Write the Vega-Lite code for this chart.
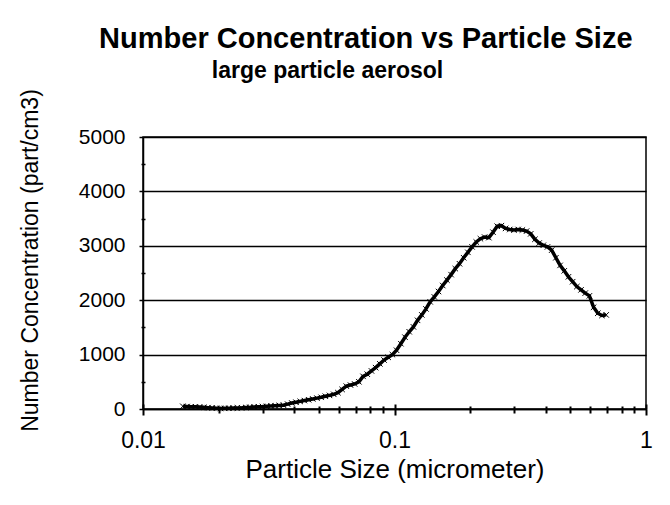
{
  "$schema": "https://vega.github.io/schema/vega-lite/v6.json",
  "width": 503,
  "height": 272,
  "autosize": {"type": "none"},
  "padding": {"left": 143, "top": 137, "right": 24, "bottom": 96},
  "background": "white",
  "title": {
    "text": "Number Concentration vs Particle Size",
    "subtitle": "large particle aerosol\u00a0\u00a0\u00a0\u00a0\u00a0\u00a0\u00a0\u00a0\u00a0\u00a0\u00a0\u00a0\u200b",
    "anchor": "middle",
    "frame": "bounds",
    "dx": 30,
    "font": "Liberation Sans",
    "fontSize": 29,
    "fontWeight": "bold",
    "color": "black",
    "subtitleFont": "Liberation Sans",
    "subtitleFontSize": 23,
    "subtitleFontWeight": "bold",
    "subtitleColor": "black",
    "subtitlePadding": 6,
    "offset": 6
  },
  "data": {
    "values": [
      {"size": 0.01440, "conc": 50}, {"size": 0.01496, "conc": 45}, {"size": 0.01555, "conc": 40}, {"size": 0.01616, "conc": 40},
      {"size": 0.01679, "conc": 35}, {"size": 0.01745, "conc": 30}, {"size": 0.01813, "conc": 25}, {"size": 0.01884, "conc": 20},
      {"size": 0.01958, "conc": 15}, {"size": 0.02034, "conc": 10}, {"size": 0.02114, "conc": 12}, {"size": 0.02196, "conc": 15},
      {"size": 0.02282, "conc": 18}, {"size": 0.02372, "conc": 20}, {"size": 0.02465, "conc": 22}, {"size": 0.02561, "conc": 28},
      {"size": 0.02661, "conc": 32}, {"size": 0.02765, "conc": 38}, {"size": 0.02873, "conc": 42}, {"size": 0.02986, "conc": 45},
      {"size": 0.03102, "conc": 50}, {"size": 0.03224, "conc": 55}, {"size": 0.03350, "conc": 60}, {"size": 0.03481, "conc": 65},
      {"size": 0.03617, "conc": 70}, {"size": 0.03759, "conc": 90}, {"size": 0.03906, "conc": 110}, {"size": 0.04059, "conc": 125},
      {"size": 0.04217, "conc": 140}, {"size": 0.04382, "conc": 155}, {"size": 0.04554, "conc": 170}, {"size": 0.04732, "conc": 185},
      {"size": 0.04917, "conc": 200}, {"size": 0.05109, "conc": 215}, {"size": 0.05309, "conc": 235}, {"size": 0.05517, "conc": 250},
      {"size": 0.05733, "conc": 270}, {"size": 0.05957, "conc": 300}, {"size": 0.06190, "conc": 360}, {"size": 0.06432, "conc": 420},
      {"size": 0.06684, "conc": 440}, {"size": 0.06945, "conc": 460}, {"size": 0.07217, "conc": 500}, {"size": 0.07499, "conc": 600},
      {"size": 0.07793, "conc": 640}, {"size": 0.08098, "conc": 700}, {"size": 0.08414, "conc": 760}, {"size": 0.08744, "conc": 830},
      {"size": 0.09086, "conc": 900}, {"size": 0.09441, "conc": 950}, {"size": 0.09810, "conc": 1000}, {"size": 0.1019, "conc": 1080},
      {"size": 0.1060, "conc": 1200}, {"size": 0.1101, "conc": 1320}, {"size": 0.1144, "conc": 1420}, {"size": 0.1189, "conc": 1510},
      {"size": 0.1235, "conc": 1630}, {"size": 0.1284, "conc": 1730}, {"size": 0.1334, "conc": 1840}, {"size": 0.1386, "conc": 1970},
      {"size": 0.1440, "conc": 2060}, {"size": 0.1496, "conc": 2160}, {"size": 0.1555, "conc": 2270}, {"size": 0.1616, "conc": 2370},
      {"size": 0.1679, "conc": 2470}, {"size": 0.1745, "conc": 2580}, {"size": 0.1813, "conc": 2670}, {"size": 0.1884, "conc": 2780},
      {"size": 0.1958, "conc": 2880}, {"size": 0.2034, "conc": 2980}, {"size": 0.2114, "conc": 3070}, {"size": 0.2196, "conc": 3130},
      {"size": 0.2282, "conc": 3160}, {"size": 0.2372, "conc": 3150}, {"size": 0.2465, "conc": 3250}, {"size": 0.2561, "conc": 3360},
      {"size": 0.2661, "conc": 3370}, {"size": 0.2765, "conc": 3320}, {"size": 0.2873, "conc": 3300}, {"size": 0.2986, "conc": 3290},
      {"size": 0.3102, "conc": 3300}, {"size": 0.3224, "conc": 3290}, {"size": 0.3350, "conc": 3270}, {"size": 0.3481, "conc": 3220},
      {"size": 0.3617, "conc": 3120}, {"size": 0.3759, "conc": 3050}, {"size": 0.3906, "conc": 3010}, {"size": 0.4059, "conc": 2980},
      {"size": 0.4217, "conc": 2920}, {"size": 0.4382, "conc": 2780}, {"size": 0.4554, "conc": 2640}, {"size": 0.4732, "conc": 2540},
      {"size": 0.4917, "conc": 2430}, {"size": 0.5109, "conc": 2340}, {"size": 0.5309, "conc": 2250}, {"size": 0.5517, "conc": 2190},
      {"size": 0.5733, "conc": 2130}, {"size": 0.5957, "conc": 2080}, {"size": 0.6190, "conc": 1870}, {"size": 0.6432, "conc": 1760},
      {"size": 0.6684, "conc": 1720}, {"size": 0.6945, "conc": 1730}
    ]
  },
  "layer": [
    {
      "mark": {"type": "line", "color": "black", "strokeWidth": 3.5},
      "encoding": {
        "x": {
          "field": "size", "type": "quantitative",
          "scale": {"type": "log", "domain": [0.01, 1]},
          "axis": {
            "orient": "bottom",
            "title": "Particle Size (micrometer)",
            "values": [0.01, 0.02, 0.03, 0.04, 0.05, 0.06, 0.07, 0.08, 0.09, 0.1, 0.2, 0.3, 0.4, 0.5, 0.6, 0.7, 0.8, 0.9, 1],
            "format": "~g",
            "labelExpr": "indexof([0.01, 0.1, 1], datum.value) >= 0 ? datum.label : ''",
            "labelFont": "Liberation Sans", "labelFontSize": 23, "labelColor": "black",
            "labelPadding": 14, "labelFlush": false, "labelOverlap": false,
            "titleFont": "Liberation Sans", "titleFontSize": 26, "titleFontWeight": "normal", "titleColor": "black", "titlePadding": 4,
            "domainColor": "black", "domainWidth": 1.5,
            "tickColor": "black", "tickWidth": 2,
            "tickSize": {"condition": {"test": "indexof([0.01, 0.1, 1], datum.value) >= 0", "value": 6}, "value": 4},
            "grid": false
          }
        },
        "y": {
          "field": "conc", "type": "quantitative",
          "scale": {"domain": [0, 5000]},
          "axis": {
            "orient": "left",
            "title": "Number Concentration (part/cm3)",
            "titleY": 123,
            "values": [0, 500, 1000, 1500, 2000, 2500, 3000, 3500, 4000, 4500, 5000],
            "format": "d",
            "labelExpr": "datum.value % 1000 === 0 ? datum.label : ''",
            "labelFont": "Liberation Sans", "labelFontSize": 21, "labelColor": "black",
            "labelPadding": 14, "labelFlush": false, "labelOverlap": false,
            "titleFont": "Liberation Sans", "titleFontSize": 23, "titleFontWeight": "normal", "titleColor": "black", "titlePadding": 36,
            "domainColor": "black", "domainWidth": 1.5,
            "tickColor": "black", "tickWidth": 1.5,
            "tickSize": {"condition": {"test": "datum.value % 1000 === 0", "value": 4}, "value": 2},
            "grid": true, "gridColor": "black", "gridWidth": 1.3,
            "gridOpacity": {"condition": {"test": "datum.value % 1000 === 0", "value": 1}, "value": 0}
          }
        }
      }
    },
    {
      "mark": {"type": "point", "shape": "M-1,-1L1,1M-1,1L1,-1", "size": 30, "filled": false, "strokeWidth": 1, "color": "black", "opacity": 1},
      "encoding": {
        "x": {
          "field": "size", "type": "quantitative",
          "scale": {"type": "log", "domain": [0.01, 1]},
          "axis": {
            "orient": "top", "offset": -272,
            "values": [0.01, 0.02, 0.03, 0.04, 0.05, 0.06, 0.07, 0.08, 0.09, 0.1, 0.2, 0.3, 0.4, 0.5, 0.6, 0.7, 0.8, 0.9, 1],
            "labels": false, "domain": false, "grid": false, "title": null,
            "tickColor": "black", "tickWidth": 2,
            "tickSize": {"condition": {"test": "indexof([0.01, 0.1, 1], datum.value) >= 0", "value": 5}, "value": 3}
          }
        },
        "y": {
          "field": "conc", "type": "quantitative",
          "scale": {"domain": [0, 5000]},
          "axis": {
            "orient": "right", "offset": -503,
            "values": [500, 1500, 2500, 3500, 4500],
            "labels": false, "domain": false, "grid": false, "title": null,
            "tickColor": "black", "tickWidth": 1.5, "tickSize": 2
          }
        }
      }
    }
  ],
  "resolve": {"axis": {"x": "independent", "y": "independent"}},
  "config": {
    "view": {"stroke": "black", "strokeWidth": 1.5},
    "font": "Liberation Sans"
  }
}
